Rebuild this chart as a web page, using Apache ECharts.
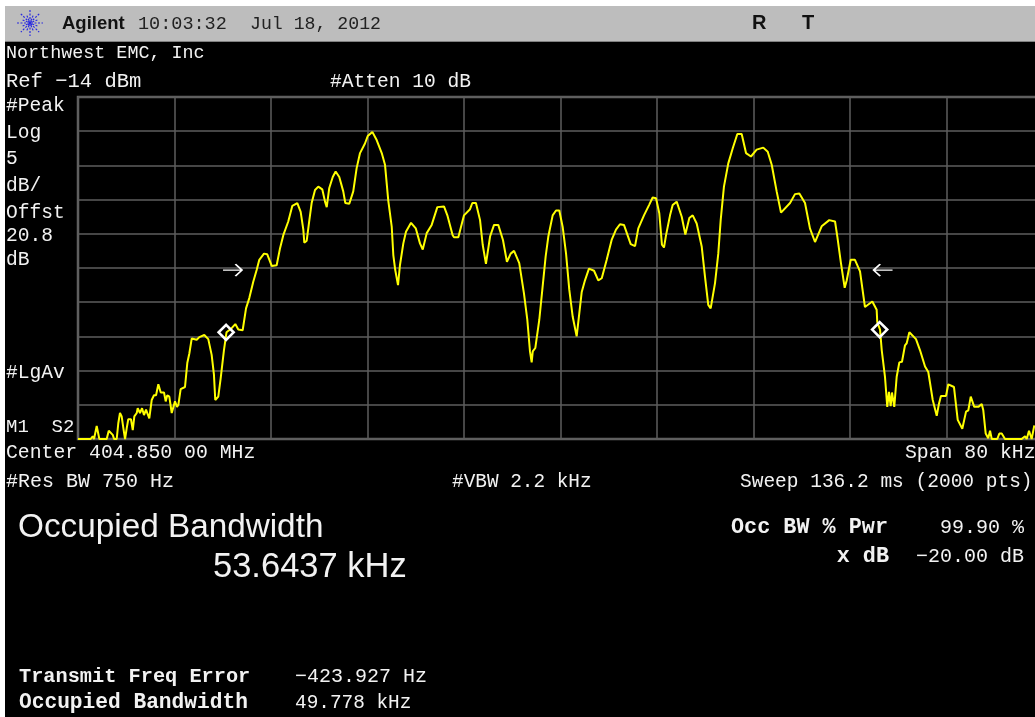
<!DOCTYPE html>
<html lang="en" style="height: 100%">
<head>
    <meta charset="utf-8">
    <title>Occupied Bandwidth</title>
</head>
<body style="height: 100%; margin: 0; background: #fff">
    <div id="container" style="width:1035px;height:717px"></div>
    <script src="https://cdn.jsdelivr.net/npm/echarts@6/dist/echarts.min.js"></script>
    <script>
        // trace: offset from center in kHz, level in dBm
        const offsetKhz = [
            -40.00,-38.95,-38.78,-38.67,-38.45,-38.34,-38.23,-37.62,-37.45,-37.29,-37.12,-37.01,-36.79,-36.66,-36.52,-36.38,-36.24,-36.10,-35.96,-35.83,
            -35.61,-35.46,-35.33,-35.13,-35.05,-34.86,-34.69,-34.53,-34.36,-34.09,-33.89,-33.70,-33.53,-33.34,-33.14,-32.87,-32.73,-32.60,-32.43,-32.23,
            -31.96,-31.79,-31.68,-31.49,-31.13,-30.94,-30.77,-30.57,-30.16,-29.94,-29.53,-29.20,-28.92,-28.73,-28.62,-28.37,-28.17,-27.90,-27.69,-27.26,
            -26.96,-26.71,-26.35,-26.07,-25.80,-25.47,-25.19,-24.97,-24.58,-24.31,-23.94,-23.53,-23.25,-22.98,-22.57,-22.23,-21.82,-21.54,-21.32,-21.24,
            -21.04,-20.82,-20.63,-20.35,-20.08,-19.75,-19.52,-19.38,-19.17,-18.88,-18.64,-18.34,-18.01,-17.84,-17.51,-17.18,-16.90,-16.62,-16.21,-15.98,
            -15.60,-15.24,-14.82,-14.55,-14.28,-13.99,-13.86,-13.70,-13.47,-13.31,-13.03,-12.81,-12.39,-12.00,-11.65,-11.42,-11.09,-10.68,-10.21,-9.66,
            -9.38,-8.94,-8.83,-8.47,-8.00,-7.50,-7.31,-7.01,-6.67,-6.45,-6.18,-5.84,-5.51,-5.16,-4.77,-4.44,-4.13,-3.85,-3.42,-3.03,
            -2.75,-2.53,-2.39,-2.30,-2.09,-1.76,-1.48,-1.23,-1.01,-0.65,-0.37,-0.10,0.18,0.46,0.73,1.01,1.34,1.56,1.76,2.03,
            2.36,2.78,3.13,3.42,3.83,4.24,4.60,4.93,5.26,5.82,6.18,6.45,6.92,7.34,7.64,7.92,8.19,8.41,8.58,8.75,
            9.08,9.30,9.63,10.05,10.35,10.68,10.96,11.29,11.71,11.98,12.25,12.45,12.81,13.08,13.28,13.55,13.91,14.28,14.66,15.02,
            15.38,15.79,16.26,16.81,17.18,17.51,17.92,18.28,19.03,19.44,19.80,20.27,20.68,21.10,21.29,21.65,22.28,22.76,22.95,23.25,
            23.56,23.73,24.06,24.41,24.83,25.24,25.85,26.21,26.26,26.49,26.63,26.90,27.09,27.23,27.37,27.48,27.67,27.87,28.09,28.31,
            28.56,28.70,28.92,29.47,29.80,30.22,30.49,30.86,31.19,31.38,31.54,31.96,32.15,32.62,32.93,33.31,33.62,33.81,34.01,34.30,
            34.64,34.92,35.05,35.25,35.46,35.61,35.75,36.21,36.38,36.58,36.85,38.23,38.51,38.65,38.84,39.06,39.28
        ];
        const levelDbm = [
            -64.0,-64.0,-63.6,-64.0,-62.1,-62.1,-64.0,-64.0,-62.8,-62.6,-63.4,-64.0,-64.0,-61.7,-60.2,-60.7,-62.4,-64.0,-62.4,-61.1,
            -61.1,-62.7,-60.7,-60.2,-59.5,-60.2,-59.5,-60.5,-59.7,-61.0,-58.3,-57.6,-57.6,-56.0,-57.2,-57.2,-58.5,-57.6,-57.8,-60.2,
            -58.5,-59.3,-59.0,-56.7,-56.4,-52.9,-51.5,-49.3,-49.5,-49.1,-48.8,-49.4,-51.7,-54.6,-58.3,-57.8,-55.1,-51.0,-48.4,-47.8,
            -47.2,-48.0,-48.1,-44.9,-43.4,-41.0,-39.3,-37.8,-36.9,-37.0,-38.7,-38.6,-36.1,-34.2,-32.2,-29.9,-29.5,-30.8,-33.4,-35.3,
            -35.0,-32.0,-29.5,-27.6,-27.1,-27.5,-29.3,-30.1,-27.3,-25.7,-24.9,-25.7,-27.8,-29.5,-29.6,-27.8,-24.4,-22.2,-20.8,-19.7,
            -19.1,-20.3,-22.2,-23.9,-29.1,-33.0,-37.1,-39.3,-41.5,-38.6,-35.4,-33.7,-32.4,-33.2,-35.4,-36.3,-33.9,-32.7,-30.1,-30.0,
            -31.3,-34.2,-34.5,-34.5,-31.3,-30.4,-29.5,-29.5,-32.0,-35.6,-38.4,-34.4,-32.7,-32.7,-34.9,-38.1,-36.9,-36.5,-38.3,-42.7,
            -46.6,-51.2,-52.8,-51.2,-50.7,-46.6,-41.7,-37.3,-34.4,-31.3,-30.6,-30.6,-33.0,-36.9,-42.2,-46.1,-49.0,-45.6,-42.5,-40.8,
            -39.1,-39.4,-40.8,-40.5,-37.8,-34.9,-33.4,-32.6,-32.7,-35.5,-35.8,-33.2,-31.3,-29.8,-28.7,-28.8,-31.0,-35.6,-36.0,-34.2,
            -31.3,-29.8,-29.3,-31.5,-34.1,-31.7,-31.3,-32.5,-35.9,-40.3,-44.4,-44.9,-41.2,-36.9,-32.0,-27.1,-23.7,-21.5,-19.4,-19.4,
            -22.2,-22.7,-21.7,-21.4,-22.0,-23.9,-27.8,-30.9,-29.5,-28.2,-28.1,-29.5,-33.2,-35.2,-34.4,-32.9,-32.0,-32.2,-34.4,-38.3,
            -41.9,-40.8,-37.8,-37.8,-39.5,-44.7,-43.9,-45.1,-46.9,-48.0,-51.0,-54.9,-59.3,-57.1,-59.2,-57.2,-59.3,-54.9,-52.8,-52.7,
            -50.3,-50.0,-48.4,-49.4,-51.0,-53.4,-54.2,-58.3,-60.6,-58.8,-57.7,-57.7,-56.0,-56.4,-61.2,-62.5,-60.0,-59.8,-57.8,-59.3,
            -59.3,-58.9,-59.8,-63.2,-63.9,-62.8,-64.0,-64.0,-63.2,-63.2,-64.0,-64.0,-63.6,-64.0,-62.8,-64.0,-62.0
        ];
        const refDbm = -14;
        const dbPerDiv = 5;
        const khzPerDiv = 8;

        const markerKhz = [-27.72, 26.46];
        const markerDbm = [-48.4, -48.0];
        const arrowKhz = [-27.19, 26.74];
        const arrowDbm = [-39.3, -39.3];

        const sideLabels = ['#Peak', 'Log', '5', 'dB/', 'Offst', '20.8', 'dB', '#LgAv', 'M1  S2'];
        const sideRows = [106, 133, 159, 186, 213, 236, 260, 373, 427];

        const WHITE = '#f2f2f2';
        const MONO = '"Liberation Mono", monospace';
        const SANS = '"Liberation Sans", sans-serif';

        function label(text, x, y, size, extra) {
            let o = extra || {};
            return {
                type: 'text',
                z: 20,
                style: {
                    text: text, x: x, y: y,
                    fill: o.fill || WHITE,
                    font: (o.bold ? 'bold ' : '') + size + 'px ' + (o.family || MONO),
                    textAlign: o.align || 'left',
                    textVerticalAlign: 'middle'
                }
            };
        }

        let graphics = [
            // screenshot frame
            { type: 'rect', z: 10, shape: { x: 0, y: 0, width: 1035, height: 6 }, style: { fill: '#fff' } },
            { type: 'rect', z: 10, shape: { x: 0, y: 0, width: 5, height: 717 }, style: { fill: '#fff' } },
            { type: 'rect', z: 10, shape: { x: 5, y: 6, width: 1030, height: 35 }, style: { fill: '#bdbdbd' } },
            { type: 'rect', z: 10, shape: { x: 5, y: 41, width: 1030, height: 1 }, style: { fill: '#808080' } },

            label('Agilent', 62, 24, 18.5, { fill: '#111', bold: true, family: SANS }),
            label('10:03:32', 138, 24, 18.5, { fill: '#222' }),
            label('Jul 18, 2012', 250, 24, 18.2, { fill: '#222' }),
            label('R', 752, 23, 20, { fill: '#111', bold: true, family: SANS }),
            label('T', 802, 23, 20, { fill: '#111', bold: true, family: SANS }),

            label('Northwest EMC, Inc', 6, 53, 18.4),
            label('Ref \u221214 dBm', 6, 82, 20.5),
            label('#Atten 10 dB', 330, 82, 19.6),
            label('Center 404.850 00 MHz', 6, 453, 19.8),
            label('Span 80 kHz', 905, 453, 19.8),
            label('#Res BW 750 Hz', 6, 482, 20),
            label('#VBW 2.2 kHz', 452, 482, 19.4),
            label('Sweep 136.2 ms (2000 pts)', 740, 482, 19.5),

            label('Occupied Bandwidth', 18, 528, 33.3, { family: SANS }),
            label('53.6437 kHz', 213, 567, 34.5, { family: SANS }),
            label('Occ BW % Pwr', 731, 528, 21.8, { bold: true }),
            label('99.90 %', 1024, 528, 20, { align: 'right' }),
            label('x dB', 889, 557, 21.8, { align: 'right', bold: true }),
            label('\u221220.00 dB', 1024, 557, 20, { align: 'right' }),
            label('Transmit Freq Error', 19, 677, 20.3, { bold: true }),
            label('\u2212423.927 Hz', 295, 677, 20),
            label('Occupied Bandwidth', 19, 703, 21.2, { bold: true }),
            label('49.778 kHz', 295, 703, 19.4)
        ];
        sideLabels.forEach(function (t, i) {
            graphics.push(label(t, 6, sideRows[i], t === 'M1  S2' ? 19 : 19.6));
        });
        // Agilent spark in the header
        [0, 45, 90, 135, 22.5, 67.5, 112.5, 157.5].forEach(function (deg, i) {
            let r = i < 4 ? 13 : 8;
            let a = deg * Math.PI / 180;
            graphics.push({
                type: 'line', z: 20,
                shape: { x1: 30 - r * Math.cos(a), y1: 23 - r * Math.sin(a), x2: 30 + r * Math.cos(a), y2: 23 + r * Math.sin(a) },
                style: { stroke: '#2a2ae0', lineWidth: 1.2, lineDash: [2, 1.5] }
            });
        });

        const toAxis = (k, d) => [k, d - refDbm];

        var dom = document.getElementById('container');
        var myChart = echarts.init(dom, null, { renderer: 'canvas' });

        let option = {
            backgroundColor: '#000',
            animation: false,
            // last division runs off the right edge of the screen, so no bounds fitting
            grid: {
                left: 78, top: 97, width: 965, height: 342,
                containLabel: false, outerBoundsMode: 'none',
                show: true, backgroundColor: 'transparent', borderColor: '#666', borderWidth: 2.5
            },
            xAxis: {
                type: 'value',
                min: -40, max: 40, interval: khzPerDiv,
                axisLabel: { show: false },
                axisTick: { show: false },
                axisLine: { show: false },
                splitLine: { show: true, lineStyle: { color: '#5e5e5e', width: 1.5 } }
            },
            yAxis: {
                type: 'value',
                // dB below the reference level
                min: -50, max: 0, interval: dbPerDiv,
                axisLabel: { show: false },
                axisTick: { show: false },
                axisLine: { show: false },
                splitLine: { show: true, lineStyle: { color: '#5e5e5e', width: 1.5 } }
            },
            graphic: graphics,
            series: [
                {
                    type: 'line',
                    symbol: 'none',
                    lineStyle: { color: '#ffff00', width: 2 },
                    data: offsetKhz.map((k, i) => toAxis(k, levelDbm[i]))
                },
                {
                    type: 'scatter',
                    symbol: 'diamond',
                    symbolSize: 15,
                    z: 5,
                    itemStyle: { color: 'rgba(0,0,0,0)', borderColor: '#fff', borderWidth: 2.6, opacity: 1 },
                    data: markerKhz.map((k, i) => toAxis(k, markerDbm[i]))
                },
                {
                    type: 'scatter',
                    symbol: 'path://M0,5 H20 M13,0 L20,5 L13,10',
                    symbolSize: [19, 12],
                    symbolRotate: function (v, p) { return p.dataIndex === 0 ? 0 : 180; },
                    z: 5,
                    itemStyle: { color: 'none', borderColor: '#fff', borderWidth: 1.6, opacity: 1 },
                    data: arrowKhz.map((k, i) => toAxis(k, arrowDbm[i]))
                }
            ]
        };

        myChart.setOption(option);
        window.addEventListener('resize', myChart.resize);
    </script>
</body>
</html>
